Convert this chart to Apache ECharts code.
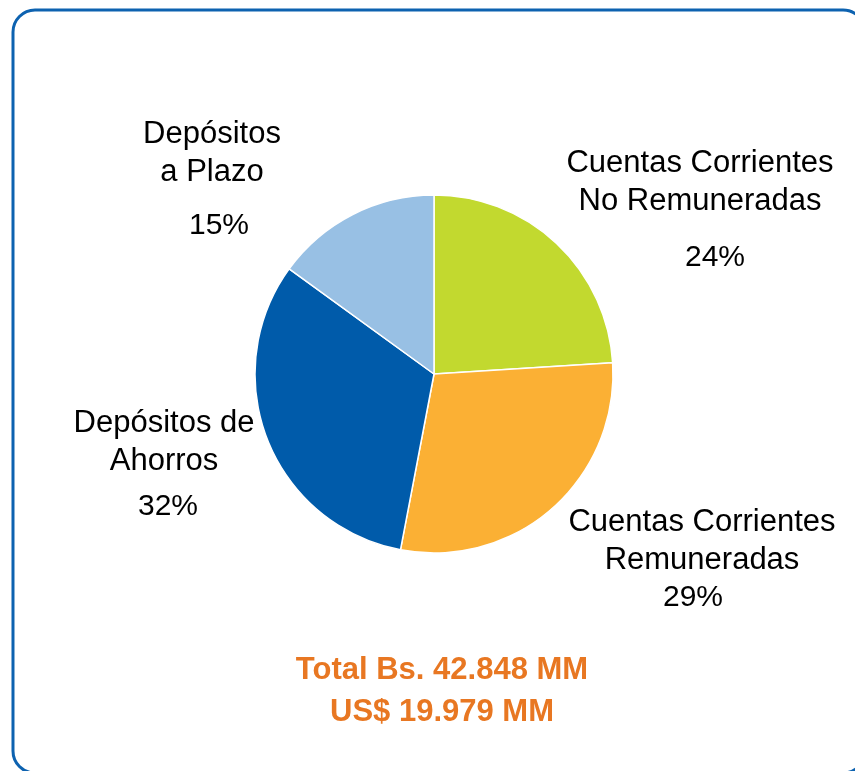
<!DOCTYPE html>
<html>
<head>
<meta charset="utf-8">
<script src="https://cdn.jsdelivr.net/npm/echarts@6/dist/echarts.min.js"></script>
<style>
  html, body { margin: 0; padding: 0; background: #fff; }
  #chart { width: 855px; height: 771px; }
</style>
</head>
<body>
<div id="chart"></div>
<script>
// datos del grafico
var categorias = [
    'Cuentas Corrientes\nNo Remuneradas',
    'Cuentas Corrientes\nRemuneradas',
    'Depósitos de\nAhorros',
    'Depósitos\na Plazo'
];
var porcentajes = [24, 29, 32, 15];
var colores = ['#C2D92F', '#FBB034', '#005BAA', '#98C0E4'];
var totales = ['Total Bs. 42.848 MM', 'US$ 19.979 MM'];

// posicion de las etiquetas (centro del bloque) y ajuste del porcentaje
var posEtiquetas = [[700, 201], [702, 560], [164, 461], [212, 172]];
var gapPct = [37, 0, 16, 31];
var despPct = [30, -18, 8, 14];

var myChart = echarts.init(document.getElementById('chart'));

var datos = [];
for (var i = 0; i < categorias.length; i++) {
    datos.push({
        name: categorias[i],
        value: porcentajes[i],
        itemStyle: { color: colores[i] },
        label: {
            rich: {
                p: { fontSize: 30, lineHeight: 38, color: '#000', fontFamily: 'Liberation Sans',
                     padding: [gapPct[i], 0, 0, despPct[i]] }
            }
        }
    });
}

myChart.setOption({
    animation: false,
    graphic: [
        {
            type: 'rect',
            shape: { x: 13, y: 10, width: 852, height: 763, r: 22 },
            style: { fill: 'none', stroke: '#0D62B0', lineWidth: 3 }
        },
        {
            type: 'text',
            style: {
                text: totales[0], x: 442, y: 670,
                align: 'center', verticalAlign: 'middle',
                fill: '#E87722', font: 'bold 31px "Liberation Sans"'
            }
        },
        {
            type: 'text',
            style: {
                text: totales[1], x: 442, y: 712,
                align: 'center', verticalAlign: 'middle',
                fill: '#E87722', font: 'bold 31px "Liberation Sans"'
            }
        }
    ],
    series: [
        {
            type: 'pie',
            center: [434, 374],
            radius: [0, 179],
            startAngle: 90,
            clockwise: true,
            data: datos,
            itemStyle: { borderColor: '#fff', borderWidth: 1.5 },
            label: {
                show: true,
                overflow: 'none',
                width: 400,
                formatter: '{n|{b}}\n{p|{c}%}',
                rich: {
                    n: { fontSize: 31, lineHeight: 38, color: '#000', fontFamily: 'Liberation Sans', align: 'center' }
                },
                align: 'center'
            },
            labelLine: { show: false },
            labelLayout: function (params) {
                var p = posEtiquetas[params.dataIndex];
                return { x: p[0], y: p[1], align: 'center', verticalAlign: 'middle' };
            }
        }
    ]
});
</script>
</body>
</html>
